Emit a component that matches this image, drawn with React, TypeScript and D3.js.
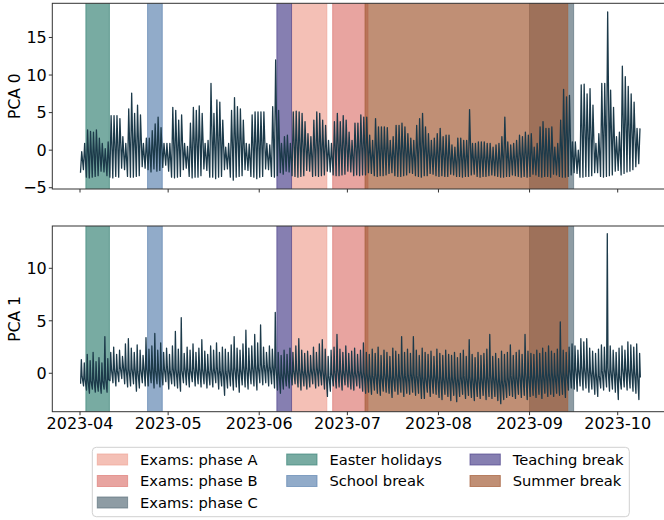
import * as d3 from "d3";

// one value per day, 2023-04-01 .. 2023-10-08 (rows are weeks starting Saturday)
const pca0Peak = [
  -0.2, 0.9, 2.7, 2.5, 2.4, 2.7, 1.6,
  0.9, 0.2, 1.1, 4.6, 4.6, 4.6, 4.2,
  1.8, 0.9, 5.5, 7.6, 4.9, 6.0, 4.7,
  0.9, 1.6, 1.6, 2.6, 3.5, 4.4, 3.0,
  0.9, 0.9, 0.9, 5.7, 5.3, 4.0, 4.7,
  0.9, 0.5, 3.6, 5.7, 5.3, 5.9, 4.9,
  0.9, 1.3, 8.9, 4.9, 6.7, 6.4, 4.0,
  0.4, 0.9, 5.3, 7.0, 5.8, 5.5, 4.0,
  0.9, 0.8, 4.7, 5.1, 5.1, 5.1, 5.1,
  0.9, 0.7, 5.8, 12.0, 5.3, 0.9, 1.8,
  2.0, 0.9, 5.1, 5.2, 5.1, 4.9, 3.8,
  2.2, 1.8, 4.0, 5.1, 4.9, 4.0, 3.3,
  1.3, 0.9, 3.8, 4.9, 3.8, 4.6, 4.0,
  2.4, 1.3, 3.6, 3.6, 4.7, 4.4, 4.4,
  2.0, 1.3, 4.2, 3.1, 3.1, 3.1, 3.0,
  1.3, 1.8, 3.3, 3.3, 3.6, 3.1, 2.2,
  1.6, 1.3, 3.3, 4.2, 4.9, 3.1, 2.2,
  1.3, 1.6, 2.2, 2.9, 1.8, 2.0, 2.0,
  0.7, 0.4, 1.6, 1.6, 1.3, 1.3, 5.4,
  0.9, 0.9, 1.1, 1.1, 1.1, 0.9, 0.9,
  0.4, 0.7, 0.9, 1.8, 4.4, 1.1, 0.7,
  0.9, 1.3, 2.0, 1.8, 2.4, 2.0, 2.2,
  0.4, 0.9, 3.1, 3.8, 2.9, 2.9, 3.1,
  0.4, 0.9, 4.0, 8.1, 7.1, 7.3, 1.1,
  1.1, 0.0, 8.7, 8.8, 7.5, 8.2, 6.0,
  0.9, 2.2, 8.9, 8.9, 18.4, 8.0, 5.7,
  1.8, 2.4, 11.2, 9.8, 8.5, 7.5, 6.4,
  2.9, 2.9,
];
const pca0Trough = [
  -3.0, -2.6, -3.6, -3.7, -3.6, -3.5, -3.4,
  -2.8, -2.9, -3.4, -3.6, -3.7, -3.5, -3.6,
  -2.4, -2.6, -3.5, -3.6, -3.6, -3.5, -3.4,
  -2.2, -2.4, -2.6, -2.9, -2.5, -2.8, -2.7,
  -2.3, -2.0, -2.8, -3.6, -3.7, -3.6, -3.5,
  -2.6, -2.4, -3.5, -3.7, -3.6, -3.6, -3.4,
  -2.5, -2.7, -3.6, -3.6, -3.8, -3.6, -3.5,
  -2.6, -2.5, -3.6, -4.0, -3.6, -3.5, -3.4,
  -2.6, -2.7, -3.5, -3.6, -3.8, -3.6, -3.5,
  -2.5, -2.6, -3.5, -3.6, -3.4, -3.0, -3.2,
  -2.8, -2.9, -3.4, -3.5, -3.6, -3.5, -3.4,
  -2.7, -2.8, -3.5, -3.4, -3.5, -3.4, -3.3,
  -2.8, -2.9, -3.3, -3.4, -3.4, -3.3, -3.2,
  -2.8, -2.9, -3.4, -3.3, -3.4, -3.3, -3.3,
  -3.0, -3.1, -3.4, -3.5, -3.4, -3.4, -3.3,
  -3.1, -3.0, -3.4, -3.5, -3.5, -3.4, -3.3,
  -3.0, -3.1, -3.4, -3.5, -3.6, -3.4, -3.4,
  -3.1, -3.2, -3.4, -3.5, -3.4, -3.5, -3.5,
  -3.2, -3.3, -3.5, -3.5, -3.6, -3.5, -3.5,
  -3.3, -3.2, -3.5, -3.6, -3.5, -3.5, -3.4,
  -3.3, -3.4, -3.5, -3.6, -3.6, -3.5, -3.5,
  -3.3, -3.4, -3.5, -3.6, -3.5, -3.6, -3.5,
  -3.2, -3.3, -3.5, -3.6, -3.5, -3.5, -3.6,
  -3.2, -3.3, -3.5, -3.6, -3.6, -3.5, -3.3,
  -3.0, -3.1, -3.6, -3.6, -3.5, -3.5, -3.4,
  -3.0, -3.0, -3.5, -3.6, -3.5, -3.4, -3.3,
  -2.8, -2.7, -3.3, -3.1, -2.9, -2.8, -2.6,
  -2.2, -1.8,
];
const pca1High = [
  1.3, 1.0, 1.8, 1.2, 2.0, 1.1, 1.5,
  1.0, 3.5, 1.4, 2.0, 2.5, 1.8, 2.2,
  1.6, 2.8, 3.3, 2.4, 2.0, 2.7, 2.2,
  1.7, 3.4, 2.3, 2.6, 3.8, 2.2, 2.9,
  2.0, 2.4, 1.8, 2.6, 4.0, 2.3, 5.3,
  1.9, 2.5, 2.2, 2.8, 2.0, 2.4, 3.2,
  2.1, 1.8, 2.6, 2.2, 2.9, 2.0, 2.5,
  2.3, 2.0, 2.7, 3.5, 2.4, 2.2, 2.8,
  4.1, 2.4, 2.6, 3.7, 2.9, 4.6, 2.5,
  2.0, 2.6, 2.3, 5.8, 2.0, 1.7, 2.2,
  1.8, 2.4, 2.0, 2.6, 3.3, 2.2, 1.9,
  2.1, 1.7, 2.5, 2.0, 2.8, 3.2, 2.3,
  1.6, 2.2, 2.5, 3.7, 2.3, 2.0, 2.6,
  1.9, 2.1, 2.4, 1.8, 2.2, 2.9, 2.0,
  1.8, 2.3, 1.9, 2.5, 1.7, 2.2, 2.0,
  1.6, 2.4, 2.1, 1.8, 3.5, 2.0, 2.3,
  1.9, 3.5, 2.2, 1.7, 2.4, 2.0, 1.8,
  2.1, 1.6, 2.3, 1.9, 1.7, 2.2, 1.8,
  1.7, 2.0, 1.5, 1.9, 2.2, 1.6, 3.2,
  1.8, 1.5, 2.0, 1.7, 1.9, 2.3, 3.7,
  1.6, 1.9, 1.4, 2.1, 1.8, 2.0, 2.7,
  1.7, 2.0, 2.2, 1.8, 3.7, 2.1, 1.9,
  1.8, 2.2, 1.9, 2.4, 2.0, 2.6, 2.1,
  1.9, 2.3, 4.9, 2.2, 2.0, 2.5, 2.8,
  2.6, 2.2, 3.3, 3.0, 3.3, 2.4, 2.1,
  1.9, 2.3, 2.7, 2.5, 13.3, 2.6, 2.2,
  2.0, 2.4, 2.6, 2.2, 3.0, 2.7, 2.5,
  2.8, 1.9,
];
const pca1Low = [
  -1.0, -1.2, -1.6, -1.9, -1.5, -1.8, -1.7,
  -1.9, -1.5, -1.8, -0.7, -0.9, -1.2, -0.8,
  -0.5, -1.0, -1.3, -1.2, -1.0, -1.7, -1.4,
  -0.9, -1.2, -1.2, -0.9, -1.4, -1.0, -1.3,
  -1.1, -0.8, -1.5, -1.0, -1.2, -1.4, -1.7,
  -0.9, -1.1, -1.3, -0.8, -1.2, -1.0, -1.3,
  -1.0, -1.4, -1.1, -1.3, -0.9, -1.5, -1.2,
  -2.1, -1.4, -1.2, -1.6, -1.3, -1.8, -1.1,
  -1.3, -1.5, -1.0, -1.2, -1.6, -0.9, -1.1,
  -0.9, -1.2, -1.0, -1.4, -1.6, -1.9, -1.5,
  -1.2, -1.4, -1.1, -1.0, -1.3, -1.6, -1.2,
  -1.5, -1.3, -1.0, -1.4, -1.2, -1.1, -1.5,
  -2.2, -1.7, -1.2, -1.4, -1.3, -1.6, -1.1,
  -1.3, -1.5, -1.6, -1.2, -1.4, -1.7, -1.9,
  -1.8, -2.0, -1.6, -1.9, -2.1, -1.7, -1.8,
  -1.9, -2.3, -1.7, -2.0, -1.8, -2.2, -1.9,
  -2.0, -1.8, -2.1, -1.9, -2.4, -2.4, -1.8,
  -2.2, -1.9, -2.0, -2.3, -2.5, -2.0, -2.2,
  -2.6, -2.1, -2.7, -2.2, -2.0, -2.4, -2.1,
  -2.3, -2.6, -2.2, -2.4, -2.1, -2.5, -2.2,
  -2.4, -2.2, -2.6, -2.9, -2.5, -2.3, -2.1,
  -2.2, -2.4, -2.0, -2.3, -2.1, -2.5, -2.2,
  -2.1, -2.3, -2.0, -2.4, -1.9, -2.2, -2.0,
  -2.2, -1.9, -2.1, -2.0, -2.3, -1.6, -1.4,
  -1.5, -1.7, -1.2, -1.6, -1.4, -1.8, -1.5,
  -2.0, -2.2, -1.4, -1.6, -1.3, -1.7, -1.5,
  -1.8, -2.5, -1.5, -1.3, -1.6, -1.4, -1.7,
  -1.9, -2.5,
];
// typical daily level of PCA 1 (the dark core of the band)
const pca1Level = [
  -0.3, -0.5, -0.6, -0.7, -0.5, -0.6, -0.6,
  -0.7, -0.5, -0.6, 0.4, 0.5, 0.3, 0.6,
  0.8, 0.5, 0.4, 0.5, 0.6, 0.2, 0.4,
  0.7, 0.5, 0.4, 0.6, 0.3, 0.5, 0.4,
  0.5, 0.7, 0.2, 0.5, 0.4, 0.3, 0.3,
  0.6, 0.5, 0.3, 0.6, 0.4, 0.5, 0.4,
  0.5, 0.3, 0.5, 0.4, 0.6, 0.3, 0.4,
  0.2, 0.4, 0.5, 0.6, 0.5, 0.4, 0.7,
  0.6, 0.5, 0.7, 0.8, 0.6, 0.9, 0.8,
  0.9, 0.7, 0.8, 0.6, 0.2, 0.0, 0.1,
  0.2, 0.1, 0.3, 0.4, 0.5, 0.3, 0.2,
  0.3, 0.4, 0.5, 0.6, 0.4, 0.3, 0.1,
  -0.2, 0.0, 0.2, 0.4, 0.3, 0.2, 0.4,
  0.3, 0.2, 0.1, 0.3, 0.2, 0.1, 0.0,
  -0.1, -0.2, 0.0, -0.1, -0.3, 0.0, -0.1,
  -0.2, -0.3, 0.0, -0.1, 0.1, -0.2, -0.1,
  0.0, -0.1, -0.2, 0.1, -0.3, -0.4, -0.1,
  -0.2, -0.1, -0.3, -0.2, -0.4, -0.3, -0.2,
  -0.4, -0.3, -0.5, -0.3, -0.2, -0.4, -0.3,
  -0.4, -0.5, -0.3, -0.4, -0.2, -0.3, -0.1,
  -0.3, -0.4, -0.5, -0.7, -0.6, -0.4, -0.2,
  -0.2, -0.3, 0.0, -0.1, 0.1, -0.2, -0.1,
  -0.2, -0.1, 0.0, -0.1, 0.1, 0.0, 0.1,
  -0.1, 0.0, 0.2, 0.1, 0.0, 0.4, 0.5,
  0.6, 0.4, 0.7, 0.5, 0.6, 0.3, 0.2,
  0.0, -0.2, 0.3, 0.4, 0.5, 0.3, 0.6,
  0.2, -0.3, 0.5, 0.6, 0.4, 0.5, 0.2,
  0.1, -0.4,
];

const periodNames = [
  "Exams: phase A",
  "Exams: phase B",
  "Exams: phase C",
  "Easter holidays",
  "School break",
  "Teaching break",
  "Summer break",
];
const periodStart = ["2023-06-12", "2023-06-26", "2023-09-01", "2023-04-03", "2023-04-24", "2023-06-07", "2023-07-07"];
const periodEnd = ["2023-06-24", "2023-07-08", "2023-09-16", "2023-04-11", "2023-04-29", "2023-06-12", "2023-09-14"];
const periodColors = ["#efa597", "#de7d77", "#5e727d", "#3f877a", "#6388b2", "#524990", "#a55f3a"];

const yTicks0 = [-5, 0, 5, 10, 15];
const yTicks1 = [0, 5, 10];

const W = 664;
const H = 520;
const FONT = "DejaVu Sans, sans-serif";
const LINE = "#1c3a4a";
const DAY = 86400000;
const HOUR = 3600000;
const t0 = Date.UTC(2023, 3, 1);

const x = d3
  .scaleUtc()
  .domain([new Date(t0), new Date(Date.UTC(2023, 9, 1))])
  .range([80, 617.7]);
const axLeft = 52.3;
const axRight = 672;

type Pt = { t: Date; v: number };
// each day: list of [hour, value array]
const buildSeries = (parts: [number, number[]][]) => {
  const pts: Pt[] = [];
  parts[0][1].forEach((_, i) => {
    parts.forEach(([h, arr]) => pts.push({ t: new Date(t0 + i * DAY + h * HOUR), v: arr[i] }));
  });
  return pts;
};

const fmt = (v: number) => (v < 0 ? "\u2212" + Math.abs(v) : String(v));

const Panel = ({
  top,
  bottom,
  domain,
  ticks,
  data,
  label,
  showLabels,
}: {
  top: number;
  bottom: number;
  domain: [number, number];
  ticks: number[];
  data: Pt[];
  label: string;
  showLabels: boolean;
}) => {
  const y = d3.scaleLinear().domain(domain).range([bottom, top]);
  const line = d3
    .line<Pt>()
    .x((d) => x(d.t))
    .y((d) => y(d.v));
  const months = d3.utcMonth.range(new Date(t0), new Date(Date.UTC(2023, 9, 2)));
  const id = "clip" + label.replace(" ", "");
  return (
    <g>
      <clipPath id={id}>
        <rect x={axLeft} y={top} width={axRight - axLeft} height={bottom - top} />
      </clipPath>
      <g clipPath={`url(#${id})`}>
        {periodNames.map((n, i) => {
          const x0 = x(new Date(periodStart[i] + "T00:00:00Z"));
          const x1 = x(new Date(periodEnd[i] + "T00:00:00Z"));
          return (
            <rect
              key={n}
              x={x0}
              y={top - 2}
              width={x1 - x0}
              height={bottom - top + 4}
              fill={periodColors[i]}
              fillOpacity={0.7}
              stroke={periodColors[i]}
              strokeOpacity={0.7}
              strokeWidth={1}
            />
          );
        })}
        <path d={line(data) ?? ""} fill="none" stroke={LINE} strokeWidth={1.3} strokeLinejoin="round" />
      </g>
      <rect x={axLeft} y={top} width={axRight - axLeft} height={bottom - top} fill="none" stroke="#333" strokeWidth={1} />
      {ticks.map((t) => (
        <g key={t} transform={`translate(0,${y(t)})`}>
          <line x1={axLeft - 3.5} x2={axLeft} stroke="#333" />
          <text x={axLeft - 5.5} dy="0.36em" textAnchor="end" fontSize={16} fontFamily={FONT} fill="#000">
            {fmt(t)}
          </text>
        </g>
      ))}
      {months.map((m) => (
        <g key={+m} transform={`translate(${x(m)},${bottom})`}>
          <line y1={0} y2={3.5} stroke="#333" />
          {showLabels && (
            <text y={17.5} textAnchor="middle" fontSize={16} fontFamily={FONT} fill="#000">
              {d3.utcFormat("%Y-%m")(m)}
            </text>
          )}
        </g>
      ))}
      <text
        transform={`translate(14.5,${(top + bottom) / 2}) rotate(-90)`}
        dy="0.36em"
        textAnchor="middle"
        fontSize={15.5}
        fontFamily={FONT}
        fill="#000"
      >
        {label}
      </text>
    </g>
  );
};

const Legend = () => {
  const cols = [[0, 1, 2], [3, 4], [5, 6]];
  const colX = [97.3, 286.7, 470];
  const rowY = [459.5, 481, 502.5];
  return (
    <g>
      <rect x={92.3} y={447.3} width={537} height={69.4} rx={4} fill="#fff" fillOpacity={0.8} stroke="#d0d0d0" />
      {cols.map((c, ci) =>
        c.map((idx, ri) => (
          <g key={idx} transform={`translate(${colX[ci]},${rowY[ri]})`}>
            <rect
              x={0}
              y={-5.5}
              width={30.3}
              height={11}
              fill={periodColors[idx]}
              fillOpacity={0.7}
              stroke={periodColors[idx]}
              strokeOpacity={0.7}
            />
            <text x={42.7} dy="0.36em" fontSize={14.7} fontFamily={FONT} fill="#000">
              {periodNames[idx]}
            </text>
          </g>
        ))
      )}
    </g>
  );
};

export default function App() {
  const s0 = buildSeries([
    [4, pca0Trough],
    [14, pca0Peak],
  ]);
  const s1 = buildSeries([
    [5, pca1Low],
    [11, pca1High],
    [17, pca1Level],
  ]);
  return (
    <svg width={W} height={H} style={{ position: "absolute", left: 0, top: 0, background: "#fff" }}>
      <Panel top={3.3} bottom={189} domain={[-5.17, 19.55]} ticks={yTicks0} data={s0} label="PCA 0" showLabels={false} />
      <Panel top={226} bottom={411.7} domain={[-3.66, 14.03]} ticks={yTicks1} data={s1} label="PCA 1" showLabels={true} />
      <Legend />
    </svg>
  );
}
